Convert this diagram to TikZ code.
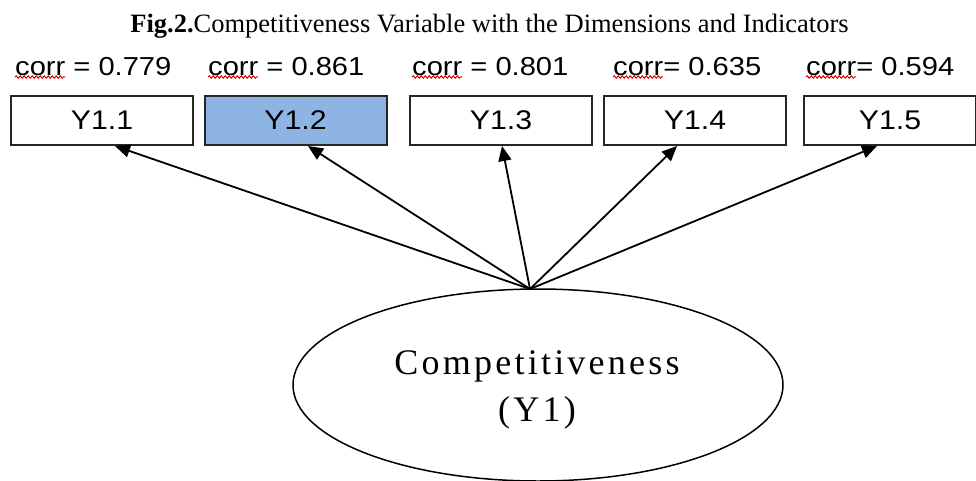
\documentclass[tikz,border=0pt]{standalone}
\usepackage{fontspec}
\setmainfont{Liberation Serif}
\newfontfamily\arialw[FakeStretch=1.12]{Liberation Sans}
\newfontfamily\timesls[LetterSpace=9]{Liberation Serif}
\usetikzlibrary{arrows.meta,shapes.geometric,decorations.pathmorphing}
\definecolor{boxblue}{HTML}{8DB4E2}
\tikzset{
  indbox/.style={draw=black!85, line width=2pt, minimum width=182pt, minimum height=49pt, inner sep=0pt, font=\arialw\fontsize{27}{30}\selectfont},
  corrlab/.style={anchor=west, inner sep=0pt, font=\arialw\fontsize{26}{30}\selectfont},
  squig/.style={draw=red!85!black, line width=1pt, decorate, decoration={snake, segment length=4pt, amplitude=1.2pt}},
  arr/.style={line width=1.8pt, -{Triangle[length=15pt,width=13pt]}},
  latent/.style={ellipse, draw, line width=1.5pt, minimum width=490pt, minimum height=192pt, inner sep=0pt},
  latentlab/.style={align=center, inner sep=0pt, font=\timesls\fontsize{36}{47}\selectfont}
}
\begin{document}
\begin{tikzpicture}[x=1pt,y=-1pt]
\useasboundingbox (0,0) rectangle (976,481);
\node[font=\fontsize{26.5}{30}\selectfont, anchor=base] (title) at (489.5,33) {\textbf{Fig.2.}Competitiveness Variable with the Dimensions and Indicators};

\node[corrlab] (l1) at (15,67) {corr = 0.779};
\node[corrlab] (l2) at (208,67) {corr = 0.861};
\node[corrlab] (l3) at (412,67) {corr = 0.801};
\node[corrlab] (l4) at (613,67) {corr= 0.635};
\node[corrlab] (l5) at (806,67) {corr= 0.594};
\foreach \n in {l1,l2,l3,l4,l5}{
  \draw[squig] ([yshift=-10pt]\n.west) -- ([yshift=-10pt,xshift=50pt]\n.west);
}

\node[indbox] (b1) at (102,120.5) {Y1.1};
\node[indbox, fill=boxblue] (b2) at (295.5,120.5) {Y1.2};
\node[indbox] (b3) at (501,120.5) {Y1.3};
\node[indbox] (b4) at (695,120.5) {Y1.4};
\node[indbox, minimum width=172pt] (b5) at (890,120.5) {Y1.5};

\node[latent] (y1) at (538,385) {};
\node[latentlab] (y1lab) at (537,390) {Competitiveness\\(Y1)};
\coordinate (apex) at (530,289);

\draw[arr] (apex) -- ([xshift=13pt]b1.south);
\draw[arr] (apex) -- ([xshift=12.5pt]b2.south);
\draw[arr] (apex) -- ([xshift=1pt]b3.south);
\draw[arr] (apex) -- ([xshift=-18pt]b4.south);
\draw[arr] (apex) -- ([xshift=-13pt]b5.south);
\end{tikzpicture}
\end{document}
